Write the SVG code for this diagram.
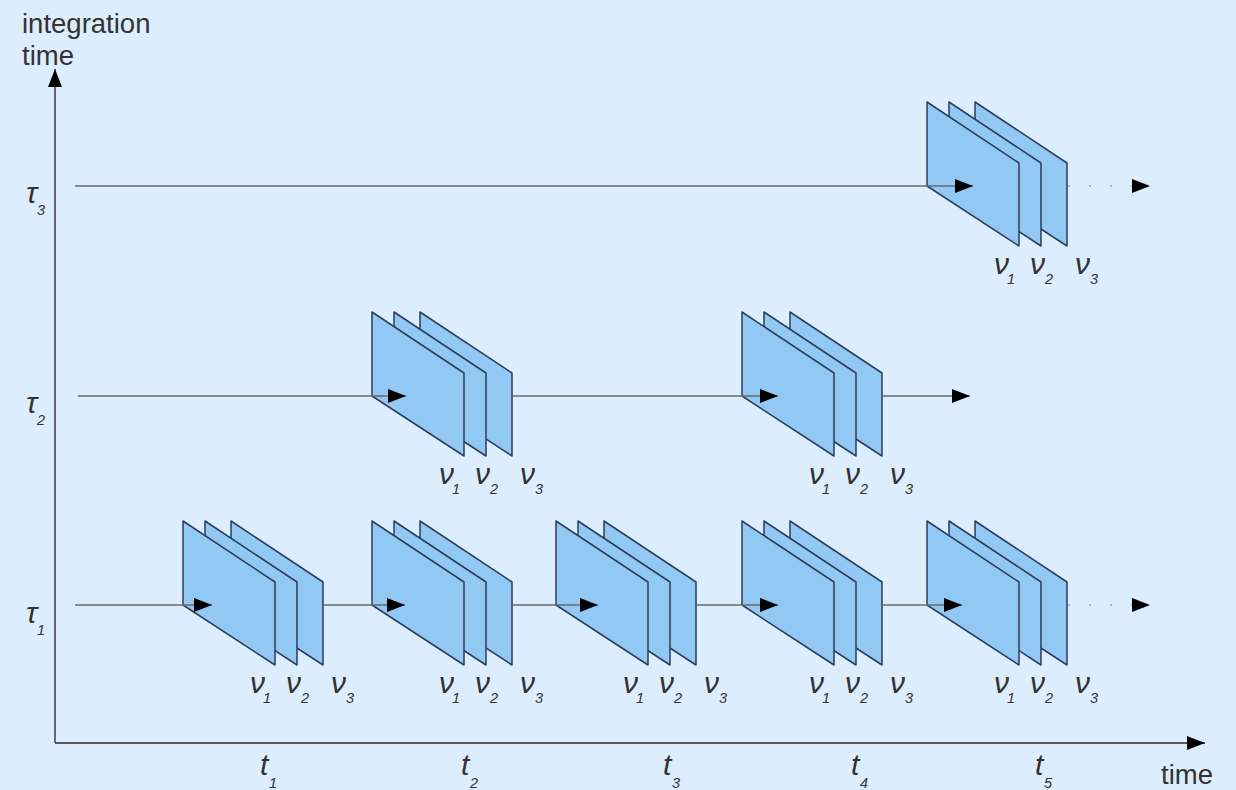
<svg xmlns="http://www.w3.org/2000/svg" xmlns:xlink="http://www.w3.org/1999/xlink" width="1236" height="790" viewBox="0 0 1236 790">
<style>
.bg{fill:#dcedfd}
.pl{fill:#92c8f4;stroke:#2b3d5c;stroke-width:1.5;stroke-linejoin:round}
.ln{stroke:#6a6a6a;stroke-width:1.5;fill:none}
.ax{stroke:#5a5a5a;stroke-width:1.8;fill:none}
.dot{stroke:#9aa4b0;stroke-width:1.5;stroke-dasharray:2 19;fill:none}
.lbl{font-family:"Liberation Sans",Arial,sans-serif;fill:#333;font-size:27.5px}
.sym{font-family:"Liberation Sans",Arial,sans-serif;fill:#333;font-size:30px;font-style:italic}
.sub{font-size:14.5px}
</style>
<defs>
<marker id="ah" markerUnits="userSpaceOnUse" markerWidth="18" markerHeight="14" refX="18" refY="7" orient="auto">
<path d="M0,0 L18,7 L0,14 z" fill="#000"/>
</marker>
</defs>
<rect class="bg" x="0" y="0" width="1236" height="790"/>

<g id="axes">
<line class="ax" x1="55" y1="743" x2="55" y2="69" marker-end="url(#ah)"/>
<line class="ax" x1="55" y1="743" x2="1205" y2="743" marker-end="url(#ah)"/>
<text class="lbl" x="22" y="33">integration</text>
<text class="lbl" x="22" y="65">time</text>
<text class="lbl" x="1161" y="784">time</text>
</g>

<g id="tau-labels">
<text class="sym" x="26" y="203">τ<tspan class="sub" x="37" dy="12">3</tspan></text>
<text class="sym" x="26" y="413">τ<tspan class="sub" x="37" dy="12">2</tspan></text>
<text class="sym" x="26" y="623">τ<tspan class="sub" x="37" dy="12">1</tspan></text>
</g>

<g id="t-labels">
<text class="sym" x="260" y="775">t<tspan class="sub" x="269" dy="13">1</tspan></text>
<text class="sym" x="461" y="775">t<tspan class="sub" x="470" dy="13">2</tspan></text>
<text class="sym" x="663" y="775">t<tspan class="sub" x="672" dy="13">3</tspan></text>
<text class="sym" x="851" y="775">t<tspan class="sub" x="860" dy="13">4</tspan></text>
<text class="sym" x="1035" y="775">t<tspan class="sub" x="1044" dy="13">5</tspan></text>
</g>

<g id="block-top-1" transform="translate(927,186)">
<polygon class="pl" points="48,-84 140,-23 140,60 48,0"/>
<polygon class="pl" points="22,-84 114,-23 114,60 22,0"/>
<polygon class="pl" points="0,-84 92,-23 92,60 0,0"/>
<text class="sym" x="67" y="88">ν<tspan class="sub" x="80" dy="10">1</tspan></text>
<text class="sym" x="103" y="88">ν<tspan class="sub" x="118" dy="10">2</tspan></text>
<text class="sym" x="148" y="88">ν<tspan class="sub" x="163" dy="10">3</tspan></text>
</g>

<g id="block-mid-1" transform="translate(372,396)">
<polygon class="pl" points="48,-84 140,-23 140,60 48,0"/>
<polygon class="pl" points="22,-84 114,-23 114,60 22,0"/>
<polygon class="pl" points="0,-84 92,-23 92,60 0,0"/>
<text class="sym" x="67" y="88">ν<tspan class="sub" x="80" dy="10">1</tspan></text>
<text class="sym" x="103" y="88">ν<tspan class="sub" x="118" dy="10">2</tspan></text>
<text class="sym" x="148" y="88">ν<tspan class="sub" x="163" dy="10">3</tspan></text>
</g>

<g id="block-mid-2" transform="translate(742,396)">
<polygon class="pl" points="48,-84 140,-23 140,60 48,0"/>
<polygon class="pl" points="22,-84 114,-23 114,60 22,0"/>
<polygon class="pl" points="0,-84 92,-23 92,60 0,0"/>
<text class="sym" x="67" y="88">ν<tspan class="sub" x="80" dy="10">1</tspan></text>
<text class="sym" x="103" y="88">ν<tspan class="sub" x="118" dy="10">2</tspan></text>
<text class="sym" x="148" y="88">ν<tspan class="sub" x="163" dy="10">3</tspan></text>
</g>

<g id="block-bot-1" transform="translate(183,605)">
<polygon class="pl" points="48,-84 140,-23 140,60 48,0"/>
<polygon class="pl" points="22,-84 114,-23 114,60 22,0"/>
<polygon class="pl" points="0,-84 92,-23 92,60 0,0"/>
<text class="sym" x="67" y="88">ν<tspan class="sub" x="80" dy="10">1</tspan></text>
<text class="sym" x="103" y="88">ν<tspan class="sub" x="118" dy="10">2</tspan></text>
<text class="sym" x="148" y="88">ν<tspan class="sub" x="163" dy="10">3</tspan></text>
</g>

<g id="block-bot-2" transform="translate(372,605)">
<polygon class="pl" points="48,-84 140,-23 140,60 48,0"/>
<polygon class="pl" points="22,-84 114,-23 114,60 22,0"/>
<polygon class="pl" points="0,-84 92,-23 92,60 0,0"/>
<text class="sym" x="67" y="88">ν<tspan class="sub" x="80" dy="10">1</tspan></text>
<text class="sym" x="103" y="88">ν<tspan class="sub" x="118" dy="10">2</tspan></text>
<text class="sym" x="148" y="88">ν<tspan class="sub" x="163" dy="10">3</tspan></text>
</g>

<g id="block-bot-3" transform="translate(556,605)">
<polygon class="pl" points="48,-84 140,-23 140,60 48,0"/>
<polygon class="pl" points="22,-84 114,-23 114,60 22,0"/>
<polygon class="pl" points="0,-84 92,-23 92,60 0,0"/>
<text class="sym" x="67" y="88">ν<tspan class="sub" x="80" dy="10">1</tspan></text>
<text class="sym" x="103" y="88">ν<tspan class="sub" x="118" dy="10">2</tspan></text>
<text class="sym" x="148" y="88">ν<tspan class="sub" x="163" dy="10">3</tspan></text>
</g>

<g id="block-bot-4" transform="translate(742,605)">
<polygon class="pl" points="48,-84 140,-23 140,60 48,0"/>
<polygon class="pl" points="22,-84 114,-23 114,60 22,0"/>
<polygon class="pl" points="0,-84 92,-23 92,60 0,0"/>
<text class="sym" x="67" y="88">ν<tspan class="sub" x="80" dy="10">1</tspan></text>
<text class="sym" x="103" y="88">ν<tspan class="sub" x="118" dy="10">2</tspan></text>
<text class="sym" x="148" y="88">ν<tspan class="sub" x="163" dy="10">3</tspan></text>
</g>

<g id="block-bot-5" transform="translate(927,605)">
<polygon class="pl" points="48,-84 140,-23 140,60 48,0"/>
<polygon class="pl" points="22,-84 114,-23 114,60 22,0"/>
<polygon class="pl" points="0,-84 92,-23 92,60 0,0"/>
<text class="sym" x="67" y="88">ν<tspan class="sub" x="80" dy="10">1</tspan></text>
<text class="sym" x="103" y="88">ν<tspan class="sub" x="118" dy="10">2</tspan></text>
<text class="sym" x="148" y="88">ν<tspan class="sub" x="163" dy="10">3</tspan></text>
</g>

<g id="connectors">
<!-- tau3 -->
<line class="ln" x1="75" y1="186" x2="973" y2="186" marker-end="url(#ah)"/>
<line class="dot" x1="1068" y1="186" x2="1150" y2="186" marker-end="url(#ah)"/>
<!-- tau2 -->
<line class="ln" x1="78" y1="396" x2="372" y2="396"/>
<line class="ln" x1="372" y1="396" x2="406" y2="396" marker-end="url(#ah)"/>
<line class="ln" x1="512" y1="396" x2="742" y2="396"/>
<line class="ln" x1="742" y1="396" x2="778" y2="396" marker-end="url(#ah)"/>
<line class="ln" x1="883" y1="396" x2="970" y2="396" marker-end="url(#ah)"/>
<!-- tau1 -->
<line class="ln" x1="75" y1="605" x2="183" y2="605"/>
<line class="ln" x1="183" y1="605" x2="212" y2="605" marker-end="url(#ah)"/>
<line class="ln" x1="323" y1="605" x2="372" y2="605"/>
<line class="ln" x1="372" y1="605" x2="405" y2="605" marker-end="url(#ah)"/>
<line class="ln" x1="512" y1="605" x2="556" y2="605"/>
<line class="ln" x1="556" y1="605" x2="598" y2="605" marker-end="url(#ah)"/>
<line class="ln" x1="696" y1="605" x2="742" y2="605"/>
<line class="ln" x1="742" y1="605" x2="778" y2="605" marker-end="url(#ah)"/>
<line class="ln" x1="883" y1="605" x2="927" y2="605"/>
<line class="ln" x1="927" y1="605" x2="962" y2="605" marker-end="url(#ah)"/>
<line class="dot" x1="1068" y1="605" x2="1150" y2="605" marker-end="url(#ah)"/>
</g>
</svg>
